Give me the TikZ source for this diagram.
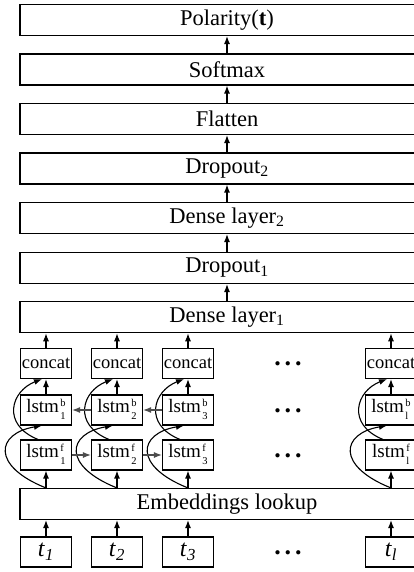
\documentclass[tikz,border=0pt]{standalone}
\usepackage{fontspec}
\setmainfont{Liberation Serif}
\usepackage{xcolor}
\usepackage{tikz}
\usetikzlibrary{arrows,arrows.meta}

\newcommand{\lstmcell}[2]{lstm\hspace{1.5pt}{\fontsize{10.5}{13}\selectfont
  \begin{tabular}[c]{@{}l@{}}#1\\#2\end{tabular}}}

\tikzset{
  layer/.style={draw, line width=1.1pt, minimum width=414pt, minimum height=31pt,
    inner sep=0pt, font=\fontsize{22.5}{24}\selectfont},
  cell/.style={draw, line width=1.1pt, minimum width=51pt, minimum height=30pt,
    inner sep=0pt, font=\fontsize{19}{20}\selectfont},
  up/.style={-{Latex[length=8pt,width=6pt]}, line width=1.2pt},
  rec/.style={-{Latex[length=8pt,width=6pt]}, line width=1.2pt, black!70},
  skip/.style={-{Latex[length=8pt,width=6pt]}, line width=1.1pt},
  more/.style={inner sep=0pt, font=\fontsize{26}{28}\bfseries},
}

\begin{document}
\begin{tikzpicture}[x=1pt,y=-1pt]
    \useasboundingbox (0,0) rectangle (414,572);
    % stacked layers
    \node[layer] (pol) at (227,20) {Polarity(\textbf{t})};
    \node[layer] (soft) at (227,69.5) {Softmax};
    \node[layer] (flat) at (227,119) {Flatten};
    \node[layer] (drop2) at (227,168.5) {Dropout\textsubscript{2}};
    \node[layer] (dense2) at (227,218) {Dense layer\textsubscript{2}};
    \node[layer] (drop1) at (227,268) {Dropout\textsubscript{1}};
    \node[layer, line width=1.5pt] (dense1) at (227,317) {Dense layer\textsubscript{1}};
    \node[layer] (emb) at (227,504) {Embeddings lookup};
    \draw[up] (soft.north) -- (pol.south);
    \draw[up] (flat.north) -- (soft.south);
    \draw[up] (drop2.north) -- (flat.south);
    \draw[up] (dense2.north) -- (drop2.south);
    \draw[up] (drop1.north) -- (dense2.south);
    \draw[up] (dense1.north) -- (drop1.south);
    % one column per token
    \foreach \i/\x in {1/46,2/117,3/188,l/391}{
      \node[cell, font=\fontsize{18.5}{20}\selectfont] (cat\i) at (\x,363.5) {concat};
      \node[cell] (lb\i) at (\x,410) {\lstmcell{b}{\i}};
      \node[cell] (lf\i) at (\x,455) {\lstmcell{f}{\i}};
      \node[cell, font=\fontsize{24}{26}\selectfont] (t\i) at (\x,552) {\textit{t}\textsubscript{\textit{\i}}};
      \draw[up] (cat\i.north) -- (cat\i.north |- dense1.south);
      \draw[up] (lb\i.north) -- (cat\i.south);
      \draw[up] (lf\i.south |- emb.north) -- (lf\i.south);
      \draw[up] (t\i.north) -- (t\i.north |- emb.south);
      \draw[skip] (lf\i.south |- emb.north) .. controls +(-55,-22) and +(-46,8) .. ([xshift=-4pt]lb\i.south);
      \draw[skip] ([xshift=-8pt]lf\i.north) .. controls +(-37,-15) and +(-31,12) .. ([xshift=-4pt]cat\i.south);
    };
    \draw[rec] (lf1) -- (lf2);
    \draw[rec] (lf2) -- (lf3);
    \draw[rec] (lb3) -- (lb2);
    \draw[rec] (lb2) -- (lb1);
    \node[more] (dotc) at (288,364) {.\kern4pt.\kern4pt.};
    \node[more] (dotb) at (288,411) {.\kern4pt.\kern4pt.};
    \node[more] (dotf) at (288,456) {.\kern4pt.\kern4pt.};
    \node[more] (dott) at (288,553) {.\kern4pt.\kern4pt.};
  \end{tikzpicture}
\end{document}
